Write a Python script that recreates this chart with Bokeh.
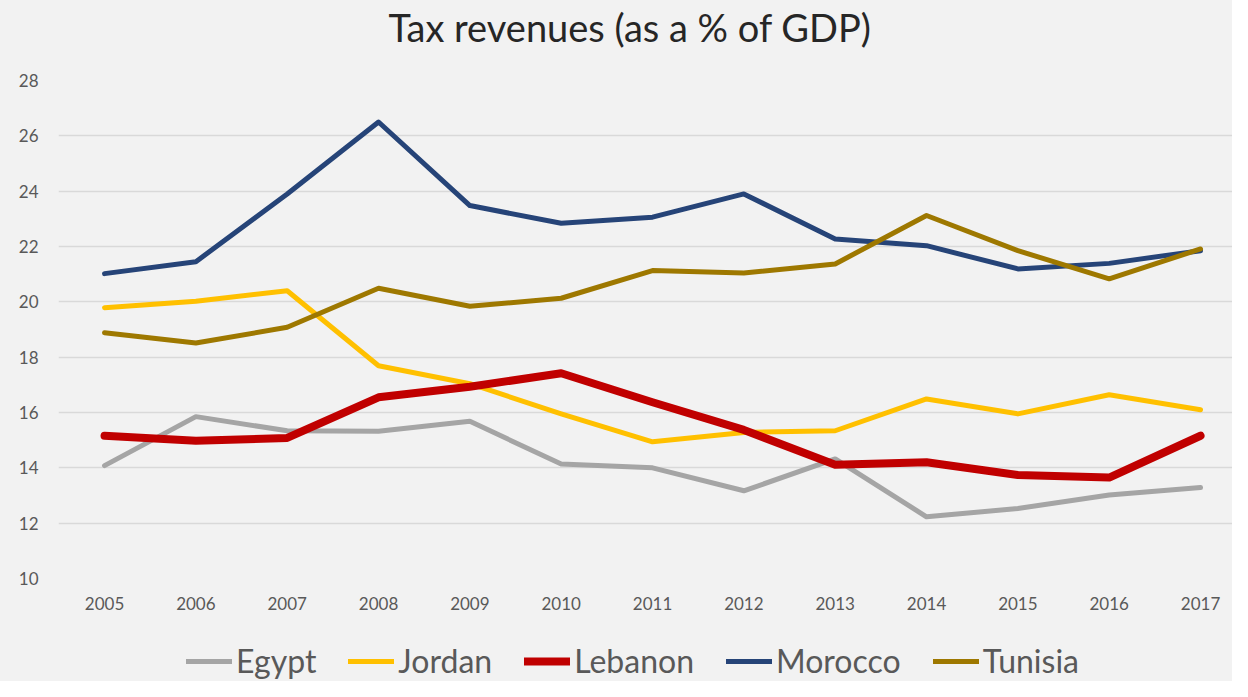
from bokeh.plotting import figure
from bokeh.layouts import column
from bokeh.models import Range1d, FixedTicker, Legend, LegendItem
from bokeh.core.properties import value
from bokeh.embed import file_html
from bokeh.resources import INLINE

title_text = "Tax revenues (as a % of GDP)"
years = [2005, 2006, 2007, 2008, 2009, 2010, 2011, 2012, 2013, 2014, 2015, 2016, 2017]
year_labels = [str(y) for y in years]
y_ticks = [10, 12, 14, 16, 18, 20, 22, 24, 26, 28]

egypt = [14.08, 15.85, 15.34, 15.32, 15.68, 14.14, 14.00, 13.17, 14.32, 12.23, 12.53, 13.02, 13.29]
jordan = [19.79, 20.02, 20.40, 17.69, 17.04, 15.95, 14.94, 15.28, 15.34, 16.49, 15.95, 16.64, 16.10]
lebanon = [15.16, 14.98, 15.08, 16.55, 16.93, 17.42, 16.37, 15.37, 14.11, 14.20, 13.74, 13.65, 15.16]
morocco = [21.02, 21.45, 23.90, 26.50, 23.48, 22.84, 23.06, 23.90, 22.27, 22.03, 21.19, 21.39, 21.85]
tunisia = [18.88, 18.51, 19.08, 20.49, 19.84, 20.13, 21.13, 21.04, 21.37, 23.12, 21.85, 20.83, 21.91]

series = [
    ("Egypt", egypt, "#a5a5a5", 5),
    ("Jordan", jordan, "#ffc000", 5),
    ("Lebanon", lebanon, "#c00000", 8),
    ("Morocco", morocco, "#264478", 5),
    ("Tunisia", tunisia, "#9e7800", 5),
]

BG = "#f2f2f2"
FONT = "Lato"
TXT = "#595959"
W = 1232

# --- title strip ---
p0 = figure(width=W, height=68, output_backend="svg", toolbar_location=None,
            x_range=Range1d(0, 1), y_range=Range1d(0, 68), x_axis_type=None, y_axis_type=None,
            min_border=0, background_fill_color=BG, background_fill_alpha=0,
            border_fill_color=BG, outline_line_color=None)
p0.grid.visible = False
p0.text(x=[0.4868], y=[42], text=[title_text], text_align="center", text_baseline="middle",
        text_font=value(FONT), text_font_size="38px", text_color="#262626")

# --- main chart ---
p = figure(width=W, height=552, output_backend="svg", toolbar_location=None,
           x_range=Range1d(2004.496, 2017.350), y_range=Range1d(10, 28),
           min_border_left=58, min_border_right=0, min_border_top=12, min_border_bottom=42,
           background_fill_color=BG, border_fill_color=BG, outline_line_color=None)

for name, vals, color, w in series:
    p.line(years, vals, line_color=color, line_width=w, line_cap="round", line_join="round")

p.xgrid.visible = False
p.ygrid.grid_line_color = "#d9d9d9"
p.ygrid.grid_line_width = 1.5
p.yaxis.ticker = FixedTicker(ticks=y_ticks)
p.xaxis.ticker = FixedTicker(ticks=years)
p.xaxis.major_label_overrides = {y: lab for y, lab in zip(years, year_labels)}

for ax in (p.xaxis, p.yaxis):
    ax.axis_line_color = None
    ax.major_tick_line_color = None
    ax.minor_tick_line_color = None
    ax.major_label_text_font = FONT
    ax.major_label_text_font_size = "17px"
    ax.major_label_text_color = TXT

p.yaxis.major_label_standoff = 14
p.xaxis.major_label_standoff = 12

# --- legend strip (lines drawn from the series, outside the strip's view) ---
p2 = figure(width=W, height=61, output_backend="svg", toolbar_location=None,
            x_range=Range1d(0, 1), y_range=Range1d(0, 1), x_axis_type=None, y_axis_type=None,
            min_border=0, background_fill_color=BG, background_fill_alpha=0,
            border_fill_color=BG, outline_line_color=None)
p2.grid.visible = False
items = []
for name, vals, color, w in series:
    r = p2.line(years, vals, line_color=color, line_width=w, line_cap="round")
    items.append(LegendItem(label=name, renderers=[r]))

legend = Legend(items=items, orientation="horizontal", location=(128, 1),
                background_fill_alpha=0, border_line_color=None,
                label_text_font=FONT, label_text_font_size="32px", label_text_color=TXT,
                glyph_width=46, glyph_height=30, label_standoff=4, spacing=32,
                padding=0, margin=0)
p2.add_layout(legend, "center")

layout = column(p0, p, p2, spacing=0, styles={"background-color": BG})
open("out.html", "w").write(file_html(layout, INLINE))
